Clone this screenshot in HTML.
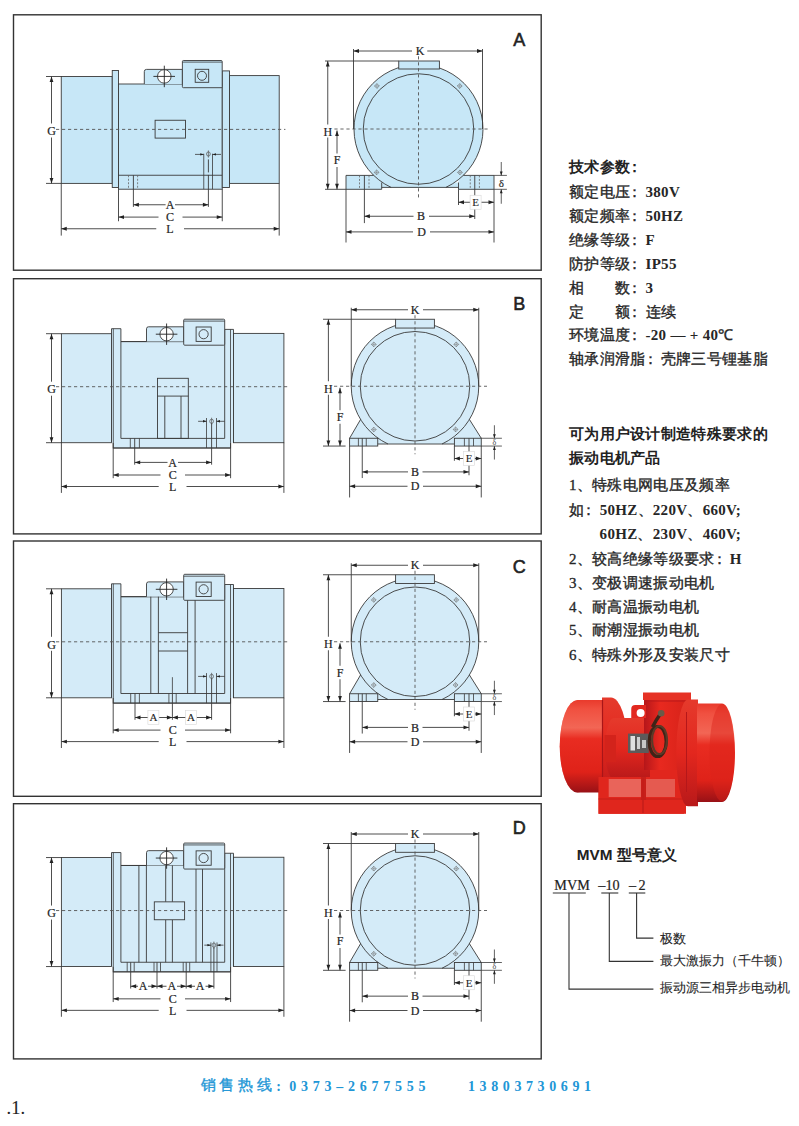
<!DOCTYPE html>
<html><head><meta charset="utf-8"><style>
html,body{margin:0;padding:0;background:#fff;width:799px;height:1126px;overflow:hidden;position:relative}
.t{position:absolute;white-space:nowrap;line-height:20px;font-family:"Liberation Serif",serif;font-size:15px;letter-spacing:0.3px;color:#262626;font-weight:normal;-webkit-text-stroke-width:0.35px}
.b{font-family:"Liberation Sans",sans-serif;font-weight:bold;color:#222;-webkit-text-stroke:0}
.n{font-family:"Liberation Serif",serif;font-weight:bold;-webkit-text-stroke:0}
.c{position:relative;left:-3px}
.m{font-family:"Liberation Serif",serif;font-weight:normal;-webkit-text-stroke-width:0.3px}
</style></head><body>
<svg width="799" height="1126" viewBox="0 0 799 1126" style="position:absolute;left:0;top:0">
<rect x="13.5" y="14.8" width="527.7" height="255.4" fill="none" stroke="#333" stroke-width="1.4"/>
<text x="519.3" y="45.6" font-family="Liberation Sans" font-size="18" text-anchor="middle" fill="#222" font-weight="normal" stroke="#222" stroke-width="0.55">A</text>
<rect x="61.25" y="76.5" width="51" height="106.9" fill="#c7e7f7" stroke="#3a3a3a" stroke-width="0.9"/>
<rect x="112.25" y="70.5" width="6.25" height="117" fill="#c7e7f7" stroke="#3a3a3a" stroke-width="0.9"/>
<rect x="118.5" y="84" width="103.75" height="105.2" fill="#c7e7f7" stroke="#3a3a3a" stroke-width="0.9"/>
<line x1="118.5" y1="175.25" x2="222.25" y2="175.25" stroke="#3a3a3a" stroke-width="0.9"/>
<rect x="222.25" y="70.9" width="7.25" height="116.6" fill="#c7e7f7" stroke="#3a3a3a" stroke-width="0.9"/>
<rect x="229.5" y="75.6" width="49.7" height="107.8" fill="#c7e7f7" stroke="#3a3a3a" stroke-width="0.9"/>
<path d="M144.3,84 V71.6 Q144.3,69.4 146.5,69.4 H182.4 V84" fill="#c7e7f7" stroke="#3a3a3a" stroke-width="0.9"/>
<rect x="182.4" y="60.5" width="39.8" height="27.2" fill="#c7e7f7" stroke="#3a3a3a" stroke-width="0.9" rx="1"/>
<line x1="182.4" y1="62.1" x2="222.2" y2="62.1" stroke="#3a3a3a" stroke-width="0.8"/>
<rect x="195.2" y="69.3" width="13.5" height="13" fill="none" stroke="#3a3a3a" stroke-width="0.9"/>
<circle cx="202" cy="75.8" r="4.5" fill="none" stroke="#3a3a3a" stroke-width="0.9"/>
<circle cx="164.3" cy="76.4" r="6.8" fill="#fff" stroke="#3a3a3a" stroke-width="0.9"/>
<line x1="153.4" y1="76.4" x2="175" y2="76.4" stroke="#222" stroke-width="0.9"/>
<line x1="164.3" y1="65.7" x2="164.3" y2="87.2" stroke="#222" stroke-width="0.9"/>
<rect x="155.1" y="120.25" width="30.4" height="17.85" fill="none" stroke="#3a3a3a" stroke-width="0.9"/>
<line x1="128.5" y1="175.25" x2="128.5" y2="189.2" stroke="#666" stroke-width="0.8" stroke-dasharray="2,1.5"/>
<line x1="137.6" y1="175.25" x2="137.6" y2="189.2" stroke="#666" stroke-width="0.8" stroke-dasharray="2,1.5"/>
<line x1="133.4" y1="175.25" x2="133.4" y2="206.9" stroke="#3a3a3a" stroke-width="0.9"/>
<line x1="203.75" y1="153.75" x2="203.75" y2="189.2" stroke="#3a3a3a" stroke-width="0.8"/>
<line x1="212.5" y1="153.75" x2="212.5" y2="189.2" stroke="#3a3a3a" stroke-width="0.8"/>
<line x1="208.4" y1="159.4" x2="208.4" y2="206.9" stroke="#3a3a3a" stroke-width="0.9" stroke-dasharray="13,2.5,40"/>
<line x1="195" y1="154.4" x2="203.75" y2="154.4" stroke="#3a3a3a" stroke-width="0.8"/>
<polygon points="203.75,154.4 200.25,153.2 200.25,155.6" fill="#222"/>
<line x1="212.5" y1="154.4" x2="221" y2="154.4" stroke="#3a3a3a" stroke-width="0.8"/>
<polygon points="212.5,154.4 216,153.2 216,155.6" fill="#222"/>
<ellipse cx="208.4" cy="154" rx="1.9" ry="2.1" fill="none" stroke="#555" stroke-width="0.7"/>
<line x1="208.4" y1="150.4" x2="208.4" y2="157.6" stroke="#555" stroke-width="0.7"/>
<line x1="56" y1="129.4" x2="285.4" y2="129.4" stroke="#555" stroke-width="0.9" stroke-dasharray="3.2,2.8"/>
<line x1="46" y1="76.5" x2="61.25" y2="76.5" stroke="#3a3a3a" stroke-width="0.9"/>
<line x1="46" y1="183.4" x2="61.25" y2="183.4" stroke="#3a3a3a" stroke-width="0.9"/>
<line x1="51.5" y1="76.5" x2="51.5" y2="123.5" stroke="#3a3a3a" stroke-width="0.9"/>
<line x1="51.5" y1="137.5" x2="51.5" y2="183.4" stroke="#3a3a3a" stroke-width="0.9"/>
<polygon points="51.5,76.5 49.6,82 53.4,82" fill="#222"/>
<polygon points="51.5,183.4 49.6,177.9 53.4,177.9" fill="#222"/>
<text x="51.5" y="135.1" font-family="Liberation Serif" font-size="12" text-anchor="middle" fill="#1e1e1e" font-weight="normal" stroke="#1e1e1e" stroke-width="0.2">G</text>
<line x1="61.25" y1="183.4" x2="61.25" y2="235.6" stroke="#3a3a3a" stroke-width="0.9"/>
<line x1="279.2" y1="183.4" x2="279.2" y2="235.6" stroke="#3a3a3a" stroke-width="0.9"/>
<line x1="118.5" y1="189.2" x2="118.5" y2="221.25" stroke="#3a3a3a" stroke-width="0.9"/>
<line x1="222.25" y1="189.2" x2="222.25" y2="221.25" stroke="#3a3a3a" stroke-width="0.9"/>
<line x1="133.4" y1="204.75" x2="165.6" y2="204.75" stroke="#3a3a3a" stroke-width="0.9"/>
<line x1="175" y1="204.75" x2="208.4" y2="204.75" stroke="#3a3a3a" stroke-width="0.9"/>
<polygon points="133.4,204.75 138.9,202.85 138.9,206.65" fill="#222"/>
<polygon points="208.4,204.75 202.9,202.85 202.9,206.65" fill="#222"/>
<text x="170" y="208.95" font-family="Liberation Serif" font-size="12" text-anchor="middle" fill="#1e1e1e" font-weight="normal" stroke="#1e1e1e" stroke-width="0.2">A</text>
<line x1="118.5" y1="217.1" x2="158.5" y2="217.1" stroke="#3a3a3a" stroke-width="0.9"/>
<line x1="182.5" y1="217.1" x2="222.25" y2="217.1" stroke="#3a3a3a" stroke-width="0.9"/>
<polygon points="118.5,217.1 124,215.2 124,219" fill="#222"/>
<polygon points="222.25,217.1 216.75,215.2 216.75,219" fill="#222"/>
<text x="170" y="221.3" font-family="Liberation Serif" font-size="12" text-anchor="middle" fill="#1e1e1e" font-weight="normal" stroke="#1e1e1e" stroke-width="0.2">C</text>
<line x1="61.25" y1="228.75" x2="156.25" y2="228.75" stroke="#3a3a3a" stroke-width="0.9"/>
<line x1="184" y1="228.75" x2="279.2" y2="228.75" stroke="#3a3a3a" stroke-width="0.9"/>
<polygon points="61.25,228.75 66.75,226.85 66.75,230.65" fill="#222"/>
<polygon points="279.2,228.75 273.7,226.85 273.7,230.65" fill="#222"/>
<text x="170" y="232.95" font-family="Liberation Serif" font-size="12" text-anchor="middle" fill="#1e1e1e" font-weight="normal" stroke="#1e1e1e" stroke-width="0.2">L</text>
<rect x="381.7" y="182.5" width="76.8" height="4.9" fill="#c7e7f7"/>
<rect x="346" y="175.4" width="35.7" height="13.9" fill="#c7e7f7"/>
<rect x="458.5" y="175.4" width="35.5" height="13.9" fill="#c7e7f7"/>
<path d="M391.12,187.4 A64.5,64.5 0 1 1 445.88,187.4 Z" fill="#c7e7f7"/>
<path d="M391.12,187.4 A64.5,64.5 0 1 1 445.88,187.4" fill="none" stroke="#3a3a3a" stroke-width="0.9"/>
<circle cx="418.5" cy="129" r="55.25" fill="none" stroke="#3a3a3a" stroke-width="0.9"/>
<path d="M373.7,175.4 H346 V189.3 H381.7 V182.5" fill="none" stroke="#3a3a3a" stroke-width="0.9"/>
<path d="M463.3,175.4 H494 V189.3 H458.5 V182.5" fill="none" stroke="#3a3a3a" stroke-width="0.9"/>
<line x1="381.7" y1="187.4" x2="458.5" y2="187.4" stroke="#3a3a3a" stroke-width="0.9"/>
<rect x="398.75" y="61" width="40.65" height="8" fill="#c7e7f7" stroke="#3a3a3a" stroke-width="0.9"/>
<line x1="359.5" y1="175.4" x2="359.5" y2="189.3" stroke="#666" stroke-width="0.8" stroke-dasharray="2,1.5"/>
<line x1="369" y1="175.4" x2="369" y2="189.3" stroke="#666" stroke-width="0.8" stroke-dasharray="2,1.5"/>
<line x1="470.25" y1="175.4" x2="470.25" y2="189.3" stroke="#666" stroke-width="0.8" stroke-dasharray="2,1.5"/>
<line x1="479.4" y1="175.4" x2="479.4" y2="189.3" stroke="#666" stroke-width="0.8" stroke-dasharray="2,1.5"/>
<line x1="364.4" y1="175.4" x2="364.4" y2="223.1" stroke="#3a3a3a" stroke-width="0.9"/>
<line x1="474.75" y1="175.4" x2="474.75" y2="219" stroke="#3a3a3a" stroke-width="0.9"/>
<path d="M376.9,83.6 L379.3,86 L376.9,88.4 L374.5,86 Z" fill="none" stroke="#666" stroke-width="0.6"/>
<line x1="374.5" y1="86" x2="379.3" y2="86" stroke="#777" stroke-width="0.5"/>
<line x1="376.9" y1="83.6" x2="376.9" y2="88.4" stroke="#777" stroke-width="0.5"/>
<path d="M459.75,83.6 L462.15,86 L459.75,88.4 L457.35,86 Z" fill="none" stroke="#666" stroke-width="0.6"/>
<line x1="457.35" y1="86" x2="462.15" y2="86" stroke="#777" stroke-width="0.5"/>
<line x1="459.75" y1="83.6" x2="459.75" y2="88.4" stroke="#777" stroke-width="0.5"/>
<path d="M376.6,170 L379,172.4 L376.6,174.8 L374.2,172.4 Z" fill="none" stroke="#666" stroke-width="0.6"/>
<line x1="374.2" y1="172.4" x2="379" y2="172.4" stroke="#777" stroke-width="0.5"/>
<line x1="376.6" y1="170" x2="376.6" y2="174.8" stroke="#777" stroke-width="0.5"/>
<path d="M459.9,170 L462.3,172.4 L459.9,174.8 L457.5,172.4 Z" fill="none" stroke="#666" stroke-width="0.6"/>
<line x1="457.5" y1="172.4" x2="462.3" y2="172.4" stroke="#777" stroke-width="0.5"/>
<line x1="459.9" y1="170" x2="459.9" y2="174.8" stroke="#777" stroke-width="0.5"/>
<line x1="334.4" y1="129" x2="490" y2="129" stroke="#555" stroke-width="0.9" stroke-dasharray="3.2,2.8"/>
<line x1="418.5" y1="56.25" x2="418.5" y2="198" stroke="#555" stroke-width="0.9" stroke-dasharray="3.2,2.8"/>
<line x1="353.5" y1="49" x2="353.5" y2="129" stroke="#3a3a3a" stroke-width="0.9"/>
<line x1="482.5" y1="49" x2="482.5" y2="129" stroke="#3a3a3a" stroke-width="0.9"/>
<line x1="353.5" y1="51" x2="412" y2="51" stroke="#3a3a3a" stroke-width="0.9"/>
<line x1="427.25" y1="51" x2="482.5" y2="51" stroke="#3a3a3a" stroke-width="0.9"/>
<polygon points="353.5,51 359,49.1 359,52.9" fill="#222"/>
<polygon points="482.5,51 477,49.1 477,52.9" fill="#222"/>
<text x="420" y="55.2" font-family="Liberation Serif" font-size="12" text-anchor="middle" fill="#1e1e1e" font-weight="normal" stroke="#1e1e1e" stroke-width="0.2">K</text>
<line x1="325" y1="61" x2="398.75" y2="61" stroke="#3a3a3a" stroke-width="0.9"/>
<line x1="325" y1="189.3" x2="346" y2="189.3" stroke="#3a3a3a" stroke-width="0.9"/>
<line x1="327.75" y1="61" x2="327.75" y2="124.5" stroke="#3a3a3a" stroke-width="0.9"/>
<line x1="327.75" y1="137.5" x2="327.75" y2="189.3" stroke="#3a3a3a" stroke-width="0.9"/>
<polygon points="327.75,61 325.85,66.5 329.65,66.5" fill="#222"/>
<polygon points="327.75,189.3 325.85,183.8 329.65,183.8" fill="#222"/>
<text x="327.75" y="135.5" font-family="Liberation Serif" font-size="12" text-anchor="middle" fill="#1e1e1e" font-weight="normal" stroke="#1e1e1e" stroke-width="0.2">H</text>
<line x1="337" y1="130.5" x2="337" y2="153.5" stroke="#3a3a3a" stroke-width="0.9"/>
<line x1="337" y1="167" x2="337" y2="189.3" stroke="#3a3a3a" stroke-width="0.9"/>
<polygon points="337,130.5 335.1,136 338.9,136" fill="#222"/>
<polygon points="337,189.3 335.1,183.8 338.9,183.8" fill="#222"/>
<text x="337" y="164.2" font-family="Liberation Serif" font-size="12" text-anchor="middle" fill="#1e1e1e" font-weight="normal" stroke="#1e1e1e" stroke-width="0.2">F</text>
<line x1="494" y1="175.4" x2="506.9" y2="175.4" stroke="#3a3a3a" stroke-width="0.8"/>
<line x1="494" y1="189.3" x2="506.9" y2="189.3" stroke="#3a3a3a" stroke-width="0.8"/>
<line x1="501.25" y1="162" x2="501.25" y2="175.4" stroke="#3a3a3a" stroke-width="0.8"/>
<polygon points="501.25,175.4 499.85,171.4 502.65,171.4" fill="#222"/>
<line x1="501.25" y1="203.75" x2="501.25" y2="189.3" stroke="#3a3a3a" stroke-width="0.8"/>
<polygon points="501.25,189.3 499.85,193.3 502.65,193.3" fill="#222"/>
<text x="501.25" y="187" font-family="Liberation Serif" font-size="11" text-anchor="middle" fill="#333" font-weight="normal" stroke="#333" stroke-width="0.2">&#948;</text>
<line x1="346" y1="189.3" x2="346" y2="242.5" stroke="#3a3a3a" stroke-width="0.9"/>
<line x1="494" y1="189.3" x2="494" y2="242.5" stroke="#3a3a3a" stroke-width="0.9"/>
<line x1="458.5" y1="189.3" x2="458.5" y2="205" stroke="#3a3a3a" stroke-width="0.9"/>
<line x1="458.5" y1="202.25" x2="470.6" y2="202.25" stroke="#3a3a3a" stroke-width="0.9"/>
<line x1="481.25" y1="202.25" x2="494" y2="202.25" stroke="#3a3a3a" stroke-width="0.9"/>
<polygon points="458.5,202.25 464,200.35 464,204.15" fill="#222"/>
<polygon points="494,202.25 488.5,200.35 488.5,204.15" fill="#222"/>
<rect x="470.1" y="195.25" width="11" height="14" fill="#fff" stroke="#d8d8d8" stroke-width="0.6"/>
<text x="475.6" y="206.05" font-family="Liberation Serif" font-size="11" text-anchor="middle" fill="#1e1e1e" font-weight="normal" stroke="#1e1e1e" stroke-width="0.1">E</text>
<line x1="364.4" y1="216.25" x2="413.5" y2="216.25" stroke="#3a3a3a" stroke-width="0.9"/>
<line x1="429" y1="216.25" x2="474.75" y2="216.25" stroke="#3a3a3a" stroke-width="0.9"/>
<polygon points="364.4,216.25 369.9,214.35 369.9,218.15" fill="#222"/>
<polygon points="474.75,216.25 469.25,214.35 469.25,218.15" fill="#222"/>
<text x="421" y="220.45" font-family="Liberation Serif" font-size="12" text-anchor="middle" fill="#1e1e1e" font-weight="normal" stroke="#1e1e1e" stroke-width="0.2">B</text>
<line x1="346" y1="231.9" x2="413" y2="231.9" stroke="#3a3a3a" stroke-width="0.9"/>
<line x1="430" y1="231.9" x2="494" y2="231.9" stroke="#3a3a3a" stroke-width="0.9"/>
<polygon points="346,231.9 351.5,230 351.5,233.8" fill="#222"/>
<polygon points="494,231.9 488.5,230 488.5,233.8" fill="#222"/>
<text x="421.5" y="236.1" font-family="Liberation Serif" font-size="12" text-anchor="middle" fill="#1e1e1e" font-weight="normal" stroke="#1e1e1e" stroke-width="0.2">D</text>
<rect x="13.5" y="278.7" width="527.7" height="255.2" fill="none" stroke="#333" stroke-width="1.4"/>
<text x="519.3" y="310" font-family="Liberation Sans" font-size="18" text-anchor="middle" fill="#222" font-weight="normal" stroke="#222" stroke-width="0.55">B</text>
<rect x="61.4" y="333.7" width="50.1" height="109" fill="#d4ebf8" stroke="#3a3a3a" stroke-width="0.9"/>
<rect x="113.2" y="341.6" width="117.4" height="106.4" fill="#d4ebf8" stroke="#3a3a3a" stroke-width="0.9"/>
<rect x="111.5" y="328.7" width="9.4" height="114" fill="#d4ebf8"/>
<path d="M111.5,442.7 V328.7 H120.9 V341.6" fill="none" stroke="#3a3a3a" stroke-width="0.9"/>
<line x1="113.3" y1="328.7" x2="113.3" y2="442.7" stroke="#3a3a3a" stroke-width="0.8"/>
<rect x="224.7" y="329.4" width="8.8" height="113.3" fill="#d4ebf8"/>
<path d="M224.7,341.6 V329.4 H233.5 V442.7" fill="none" stroke="#3a3a3a" stroke-width="0.9"/>
<line x1="230.5" y1="329.4" x2="230.5" y2="442.7" stroke="#3a3a3a" stroke-width="0.8"/>
<rect x="233.5" y="333.4" width="50.4" height="109.3" fill="#d4ebf8" stroke="#3a3a3a" stroke-width="0.9"/>
<path d="M113.2,442.7 V448 H230.6 V442.7" fill="none" stroke="#3a3a3a" stroke-width="0.9"/>
<path d="M120.9,341.6 V438.4 H224.7 V341.6" fill="none" stroke="#3a3a3a" stroke-width="0.9"/>
<line x1="120.9" y1="341.6" x2="224.7" y2="341.6" stroke="#3a3a3a" stroke-width="0.9"/>
<path d="M146.5,341.6 V328.8 Q146.5,326.8 148.5,326.8 H183.7 V341.6" fill="#d4ebf8" stroke="#3a3a3a" stroke-width="0.9"/>
<rect x="183.7" y="319.2" width="41" height="26" fill="#d4ebf8" stroke="#3a3a3a" stroke-width="0.9" rx="1"/>
<line x1="183.7" y1="321.1" x2="224.7" y2="321.1" stroke="#3a3a3a" stroke-width="0.8"/>
<rect x="196.1" y="327" width="15.1" height="14.4" fill="none" stroke="#3a3a3a" stroke-width="0.9"/>
<circle cx="203.6" cy="334.2" r="4.6" fill="none" stroke="#3a3a3a" stroke-width="0.9"/>
<rect x="157.5" y="378.3" width="30.8" height="60.1" fill="none" stroke="#3a3a3a" stroke-width="0.9"/>
<line x1="157.5" y1="396.1" x2="188.3" y2="396.1" stroke="#3a3a3a" stroke-width="0.9"/>
<line x1="164.8" y1="396.1" x2="164.8" y2="438.4" stroke="#3a3a3a" stroke-width="0.9"/>
<line x1="181" y1="396.1" x2="181" y2="438.4" stroke="#3a3a3a" stroke-width="0.9"/>
<circle cx="166.6" cy="334.2" r="6.7" fill="#fff" stroke="#3a3a3a" stroke-width="0.9"/>
<line x1="155.8" y1="334.2" x2="177.4" y2="334.2" stroke="#222" stroke-width="0.9"/>
<line x1="166.6" y1="323.5" x2="166.6" y2="344.9" stroke="#222" stroke-width="0.9"/>
<line x1="130.3" y1="438.4" x2="130.3" y2="448" stroke="#3a3a3a" stroke-width="0.8"/>
<line x1="139.4" y1="438.4" x2="139.4" y2="448" stroke="#3a3a3a" stroke-width="0.8"/>
<line x1="134.7" y1="438.4" x2="134.7" y2="464.7" stroke="#3a3a3a" stroke-width="0.9"/>
<line x1="206.5" y1="418" x2="206.5" y2="448" stroke="#3a3a3a" stroke-width="0.8"/>
<line x1="216.5" y1="418" x2="216.5" y2="448" stroke="#3a3a3a" stroke-width="0.8"/>
<line x1="211.6" y1="423" x2="211.6" y2="464.7" stroke="#3a3a3a" stroke-width="0.9"/>
<line x1="198.1" y1="421.3" x2="206.5" y2="421.3" stroke="#3a3a3a" stroke-width="0.8"/>
<polygon points="206.5,421.3 203,420.1 203,422.5" fill="#222"/>
<line x1="216.5" y1="421.3" x2="224.7" y2="421.3" stroke="#3a3a3a" stroke-width="0.8"/>
<polygon points="216.5,421.3 220,420.1 220,422.5" fill="#222"/>
<ellipse cx="211.6" cy="421.3" rx="1.9" ry="2.1" fill="none" stroke="#555" stroke-width="0.7"/>
<line x1="211.6" y1="417.7" x2="211.6" y2="424.9" stroke="#555" stroke-width="0.7"/>
<line x1="56" y1="386.7" x2="289.5" y2="386.7" stroke="#555" stroke-width="0.9" stroke-dasharray="3.2,2.8"/>
<line x1="46" y1="333.7" x2="61.4" y2="333.7" stroke="#3a3a3a" stroke-width="0.9"/>
<line x1="46" y1="442.7" x2="61.4" y2="442.7" stroke="#3a3a3a" stroke-width="0.9"/>
<line x1="51.5" y1="333.7" x2="51.5" y2="381.7" stroke="#3a3a3a" stroke-width="0.9"/>
<line x1="51.5" y1="395.7" x2="51.5" y2="442.7" stroke="#3a3a3a" stroke-width="0.9"/>
<polygon points="51.5,333.7 49.6,339.2 53.4,339.2" fill="#222"/>
<polygon points="51.5,442.7 49.6,437.2 53.4,437.2" fill="#222"/>
<text x="51.5" y="393.4" font-family="Liberation Serif" font-size="12" text-anchor="middle" fill="#1e1e1e" font-weight="normal" stroke="#1e1e1e" stroke-width="0.2">G</text>
<line x1="61.4" y1="442.7" x2="61.4" y2="492.9" stroke="#3a3a3a" stroke-width="0.9"/>
<line x1="283.9" y1="442.7" x2="283.9" y2="492.9" stroke="#3a3a3a" stroke-width="0.9"/>
<line x1="113.2" y1="448" x2="113.2" y2="478.2" stroke="#3a3a3a" stroke-width="0.9"/>
<line x1="230.6" y1="448" x2="230.6" y2="478.2" stroke="#3a3a3a" stroke-width="0.9"/>
<line x1="61.4" y1="486.5" x2="158.7" y2="486.5" stroke="#3a3a3a" stroke-width="0.9"/>
<line x1="186.5" y1="486.5" x2="283.9" y2="486.5" stroke="#3a3a3a" stroke-width="0.9"/>
<polygon points="61.4,486.5 66.9,484.6 66.9,488.4" fill="#222"/>
<polygon points="283.9,486.5 278.4,484.6 278.4,488.4" fill="#222"/>
<text x="172.7" y="490.7" font-family="Liberation Serif" font-size="12" text-anchor="middle" fill="#1e1e1e" font-weight="normal" stroke="#1e1e1e" stroke-width="0.2">L</text>
<line x1="113.2" y1="475" x2="160.5" y2="475" stroke="#3a3a3a" stroke-width="0.9"/>
<line x1="185" y1="475" x2="230.6" y2="475" stroke="#3a3a3a" stroke-width="0.9"/>
<polygon points="113.2,475 118.7,473.1 118.7,476.9" fill="#222"/>
<polygon points="230.6,475 225.1,473.1 225.1,476.9" fill="#222"/>
<text x="172.7" y="479.2" font-family="Liberation Serif" font-size="12" text-anchor="middle" fill="#1e1e1e" font-weight="normal" stroke="#1e1e1e" stroke-width="0.2">C</text>
<line x1="134.7" y1="462.4" x2="167.5" y2="462.4" stroke="#3a3a3a" stroke-width="0.9"/>
<line x1="178" y1="462.4" x2="211.6" y2="462.4" stroke="#3a3a3a" stroke-width="0.9"/>
<polygon points="134.7,462.4 140.2,460.5 140.2,464.3" fill="#222"/>
<polygon points="211.6,462.4 206.1,460.5 206.1,464.3" fill="#222"/>
<text x="172.7" y="466.6" font-family="Liberation Serif" font-size="12" text-anchor="middle" fill="#1e1e1e" font-weight="normal" stroke="#1e1e1e" stroke-width="0.2">A</text>
<path d="M349.6,446.05 V438.25 L360.58,419.45 A63.75,63.75 0 1 1 469.42,419.45 L481.25,438.25 V446.05 H454.4 V444 H377.75 V446.05 Z" fill="#d4ebf8"/>
<path d="M388,444 A63.75,63.75 0 1 1 442,444" fill="none" stroke="#3a3a3a" stroke-width="0.9"/>
<circle cx="415" cy="386.25" r="54.75" fill="none" stroke="#3a3a3a" stroke-width="0.9"/>
<line x1="349.6" y1="438.25" x2="360.58" y2="419.45" stroke="#3a3a3a" stroke-width="0.9"/>
<line x1="481.25" y1="438.25" x2="469.42" y2="419.45" stroke="#3a3a3a" stroke-width="0.9"/>
<rect x="349.6" y="438.25" width="28.15" height="7.8" fill="none" stroke="#3a3a3a" stroke-width="0.9"/>
<rect x="454.4" y="438.25" width="26.85" height="7.8" fill="none" stroke="#3a3a3a" stroke-width="0.9"/>
<line x1="377.75" y1="444" x2="454.4" y2="444" stroke="#3a3a3a" stroke-width="0.9"/>
<rect x="395.6" y="319.25" width="38.8" height="8.8" fill="#d4ebf8" stroke="#3a3a3a" stroke-width="0.9"/>
<line x1="358.4" y1="438.25" x2="358.4" y2="446.05" stroke="#3a3a3a" stroke-width="0.8"/>
<line x1="366.25" y1="438.25" x2="366.25" y2="446.05" stroke="#3a3a3a" stroke-width="0.8"/>
<line x1="464.4" y1="438.25" x2="464.4" y2="446.05" stroke="#3a3a3a" stroke-width="0.8"/>
<line x1="473.5" y1="438.25" x2="473.5" y2="446.05" stroke="#3a3a3a" stroke-width="0.8"/>
<line x1="362.25" y1="438.25" x2="362.25" y2="478.05" stroke="#3a3a3a" stroke-width="0.9"/>
<line x1="469" y1="438.25" x2="469" y2="475.25" stroke="#3a3a3a" stroke-width="0.9"/>
<path d="M373.75,342 L376.15,344.4 L373.75,346.8 L371.35,344.4 Z" fill="none" stroke="#666" stroke-width="0.6"/>
<line x1="371.35" y1="344.4" x2="376.15" y2="344.4" stroke="#777" stroke-width="0.5"/>
<line x1="373.75" y1="342" x2="373.75" y2="346.8" stroke="#777" stroke-width="0.5"/>
<path d="M456.25,342 L458.65,344.4 L456.25,346.8 L453.85,344.4 Z" fill="none" stroke="#666" stroke-width="0.6"/>
<line x1="453.85" y1="344.4" x2="458.65" y2="344.4" stroke="#777" stroke-width="0.5"/>
<line x1="456.25" y1="342" x2="456.25" y2="346.8" stroke="#777" stroke-width="0.5"/>
<path d="M373.75,427.15 L376.15,429.55 L373.75,431.95 L371.35,429.55 Z" fill="none" stroke="#666" stroke-width="0.6"/>
<line x1="371.35" y1="429.55" x2="376.15" y2="429.55" stroke="#777" stroke-width="0.5"/>
<line x1="373.75" y1="427.15" x2="373.75" y2="431.95" stroke="#777" stroke-width="0.5"/>
<path d="M455.6,427.05 L458,429.45 L455.6,431.85 L453.2,429.45 Z" fill="none" stroke="#666" stroke-width="0.6"/>
<line x1="453.2" y1="429.45" x2="458" y2="429.45" stroke="#777" stroke-width="0.5"/>
<line x1="455.6" y1="427.05" x2="455.6" y2="431.85" stroke="#777" stroke-width="0.5"/>
<line x1="334" y1="386.25" x2="487" y2="386.25" stroke="#555" stroke-width="0.9" stroke-dasharray="3.2,2.8"/>
<line x1="415" y1="315.25" x2="415" y2="454.25" stroke="#555" stroke-width="0.9" stroke-dasharray="3.2,2.8"/>
<line x1="351.25" y1="307.75" x2="351.25" y2="386.25" stroke="#3a3a3a" stroke-width="0.9"/>
<line x1="478.75" y1="307.75" x2="478.75" y2="386.25" stroke="#3a3a3a" stroke-width="0.9"/>
<line x1="351.25" y1="309.75" x2="408" y2="309.75" stroke="#3a3a3a" stroke-width="0.9"/>
<line x1="423" y1="309.75" x2="478.75" y2="309.75" stroke="#3a3a3a" stroke-width="0.9"/>
<polygon points="351.25,309.75 356.75,307.85 356.75,311.65" fill="#222"/>
<polygon points="478.75,309.75 473.25,307.85 473.25,311.65" fill="#222"/>
<text x="415" y="313.95" font-family="Liberation Serif" font-size="12" text-anchor="middle" fill="#1e1e1e" font-weight="normal" stroke="#1e1e1e" stroke-width="0.2">K</text>
<line x1="323" y1="319.25" x2="395.6" y2="319.25" stroke="#3a3a3a" stroke-width="0.9"/>
<line x1="323" y1="446.05" x2="345.6" y2="446.05" stroke="#3a3a3a" stroke-width="0.9"/>
<line x1="328.4" y1="319.25" x2="328.4" y2="381.25" stroke="#3a3a3a" stroke-width="0.9"/>
<line x1="328.4" y1="394.75" x2="328.4" y2="446.05" stroke="#3a3a3a" stroke-width="0.9"/>
<polygon points="328.4,319.25 326.5,324.75 330.3,324.75" fill="#222"/>
<polygon points="328.4,446.05 326.5,440.55 330.3,440.55" fill="#222"/>
<text x="328.4" y="392.75" font-family="Liberation Serif" font-size="12" text-anchor="middle" fill="#1e1e1e" font-weight="normal" stroke="#1e1e1e" stroke-width="0.2">H</text>
<line x1="340" y1="387.75" x2="340" y2="410.25" stroke="#3a3a3a" stroke-width="0.9"/>
<line x1="340" y1="423.75" x2="340" y2="446.05" stroke="#3a3a3a" stroke-width="0.9"/>
<polygon points="340,387.75 338.1,393.25 341.9,393.25" fill="#222"/>
<polygon points="340,446.05 338.1,440.55 341.9,440.55" fill="#222"/>
<text x="340" y="421.05" font-family="Liberation Serif" font-size="12" text-anchor="middle" fill="#1e1e1e" font-weight="normal" stroke="#1e1e1e" stroke-width="0.2">F</text>
<line x1="481.25" y1="438.25" x2="501.9" y2="438.25" stroke="#3a3a3a" stroke-width="0.8"/>
<line x1="481.25" y1="446.05" x2="501.9" y2="446.05" stroke="#3a3a3a" stroke-width="0.8"/>
<line x1="494.4" y1="425.25" x2="494.4" y2="438.25" stroke="#3a3a3a" stroke-width="0.8"/>
<polygon points="494.4,438.25 493,434.25 495.8,434.25" fill="#222"/>
<line x1="494.4" y1="459.55" x2="494.4" y2="446.05" stroke="#3a3a3a" stroke-width="0.8"/>
<polygon points="494.4,446.05 493,450.05 495.8,450.05" fill="#222"/>
<text x="494.4" y="444.55" font-family="Liberation Serif" font-size="8" text-anchor="middle" fill="#444" font-weight="normal" stroke="#444" stroke-width="0">&#948;</text>
<line x1="349.6" y1="446.05" x2="349.6" y2="497.45" stroke="#3a3a3a" stroke-width="0.9"/>
<line x1="481.25" y1="446.05" x2="481.25" y2="497.45" stroke="#3a3a3a" stroke-width="0.9"/>
<line x1="454.4" y1="446.05" x2="454.4" y2="460.75" stroke="#3a3a3a" stroke-width="0.9"/>
<line x1="454.4" y1="458.5" x2="463.5" y2="458.5" stroke="#3a3a3a" stroke-width="0.9"/>
<line x1="474.5" y1="458.5" x2="481.25" y2="458.5" stroke="#3a3a3a" stroke-width="0.9"/>
<polygon points="454.4,458.5 459.9,456.6 459.9,460.4" fill="#222"/>
<polygon points="481.25,458.5 475.75,456.6 475.75,460.4" fill="#222"/>
<rect x="463.5" y="451.5" width="11" height="14" fill="#fff" stroke="#d8d8d8" stroke-width="0.6"/>
<text x="469" y="462.3" font-family="Liberation Serif" font-size="11" text-anchor="middle" fill="#1e1e1e" font-weight="normal" stroke="#1e1e1e" stroke-width="0.1">E</text>
<line x1="362.25" y1="471.9" x2="408" y2="471.9" stroke="#3a3a3a" stroke-width="0.9"/>
<line x1="422.5" y1="471.9" x2="469" y2="471.9" stroke="#3a3a3a" stroke-width="0.9"/>
<polygon points="362.25,471.9 367.75,470 367.75,473.8" fill="#222"/>
<polygon points="469,471.9 463.5,470 463.5,473.8" fill="#222"/>
<text x="415" y="476.1" font-family="Liberation Serif" font-size="12" text-anchor="middle" fill="#1e1e1e" font-weight="normal" stroke="#1e1e1e" stroke-width="0.2">B</text>
<line x1="349.6" y1="486.25" x2="407.5" y2="486.25" stroke="#3a3a3a" stroke-width="0.9"/>
<line x1="423" y1="486.25" x2="481.25" y2="486.25" stroke="#3a3a3a" stroke-width="0.9"/>
<polygon points="349.6,486.25 355.1,484.35 355.1,488.15" fill="#222"/>
<polygon points="481.25,486.25 475.75,484.35 475.75,488.15" fill="#222"/>
<text x="415" y="490.45" font-family="Liberation Serif" font-size="12" text-anchor="middle" fill="#1e1e1e" font-weight="normal" stroke="#1e1e1e" stroke-width="0.2">D</text>
<rect x="13.5" y="541" width="527.7" height="255.3" fill="none" stroke="#333" stroke-width="1.4"/>
<text x="519.3" y="573" font-family="Liberation Sans" font-size="18" text-anchor="middle" fill="#222" font-weight="normal" stroke="#222" stroke-width="0.55">C</text>
<rect x="61.4" y="588.8" width="50.1" height="109" fill="#d4ebf8" stroke="#3a3a3a" stroke-width="0.9"/>
<rect x="113.2" y="596.7" width="117.4" height="106.4" fill="#d4ebf8" stroke="#3a3a3a" stroke-width="0.9"/>
<rect x="111.5" y="583.8" width="9.4" height="114" fill="#d4ebf8"/>
<path d="M111.5,697.8 V583.8 H120.9 V596.7" fill="none" stroke="#3a3a3a" stroke-width="0.9"/>
<line x1="113.3" y1="583.8" x2="113.3" y2="697.8" stroke="#3a3a3a" stroke-width="0.8"/>
<rect x="224.7" y="584.5" width="8.8" height="113.3" fill="#d4ebf8"/>
<path d="M224.7,596.7 V584.5 H233.5 V697.8" fill="none" stroke="#3a3a3a" stroke-width="0.9"/>
<line x1="230.5" y1="584.5" x2="230.5" y2="697.8" stroke="#3a3a3a" stroke-width="0.8"/>
<rect x="233.5" y="588.5" width="50.4" height="109.3" fill="#d4ebf8" stroke="#3a3a3a" stroke-width="0.9"/>
<path d="M113.2,697.8 V703.1 H230.6 V697.8" fill="none" stroke="#3a3a3a" stroke-width="0.9"/>
<path d="M120.9,596.7 V693.5 H224.7 V596.7" fill="none" stroke="#3a3a3a" stroke-width="0.9"/>
<line x1="120.9" y1="596.7" x2="224.7" y2="596.7" stroke="#3a3a3a" stroke-width="0.9"/>
<path d="M146.5,596.7 V583.9 Q146.5,581.9 148.5,581.9 H183.7 V596.7" fill="#d4ebf8" stroke="#3a3a3a" stroke-width="0.9"/>
<rect x="183.7" y="574.3" width="41" height="26" fill="#d4ebf8" stroke="#3a3a3a" stroke-width="0.9" rx="1"/>
<line x1="183.7" y1="576.2" x2="224.7" y2="576.2" stroke="#3a3a3a" stroke-width="0.8"/>
<rect x="196.1" y="582.1" width="15.1" height="14.4" fill="none" stroke="#3a3a3a" stroke-width="0.9"/>
<circle cx="203.6" cy="589.3" r="4.6" fill="none" stroke="#3a3a3a" stroke-width="0.9"/>
<line x1="150.8" y1="596.7" x2="150.8" y2="693.5" stroke="#3a3a3a" stroke-width="0.9"/>
<line x1="158.4" y1="596.7" x2="158.4" y2="693.5" stroke="#3a3a3a" stroke-width="0.9"/>
<line x1="187.6" y1="600.3" x2="187.6" y2="693.5" stroke="#3a3a3a" stroke-width="0.9"/>
<line x1="195.1" y1="600.3" x2="195.1" y2="693.5" stroke="#3a3a3a" stroke-width="0.9"/>
<line x1="158.4" y1="632.7" x2="187.6" y2="632.7" stroke="#3a3a3a" stroke-width="0.9"/>
<line x1="158.4" y1="651" x2="187.6" y2="651" stroke="#3a3a3a" stroke-width="0.9"/>
<line x1="172.4" y1="677.2" x2="172.4" y2="693.5" stroke="#3a3a3a" stroke-width="0.8"/>
<circle cx="166.6" cy="589.3" r="6.7" fill="#fff" stroke="#3a3a3a" stroke-width="0.9"/>
<line x1="155.8" y1="589.3" x2="177.4" y2="589.3" stroke="#222" stroke-width="0.9"/>
<line x1="166.6" y1="578.6" x2="166.6" y2="600" stroke="#222" stroke-width="0.9"/>
<line x1="130.7" y1="693.5" x2="130.7" y2="703.1" stroke="#3a3a3a" stroke-width="0.8"/>
<line x1="139.4" y1="693.5" x2="139.4" y2="703.1" stroke="#3a3a3a" stroke-width="0.8"/>
<line x1="135" y1="693.5" x2="135" y2="719.8" stroke="#3a3a3a" stroke-width="0.9"/>
<line x1="168.9" y1="693.5" x2="168.9" y2="703.1" stroke="#3a3a3a" stroke-width="0.8"/>
<line x1="176.2" y1="693.5" x2="176.2" y2="703.1" stroke="#3a3a3a" stroke-width="0.8"/>
<line x1="172.4" y1="693.5" x2="172.4" y2="719.8" stroke="#3a3a3a" stroke-width="0.9"/>
<line x1="206.5" y1="673.1" x2="206.5" y2="703.1" stroke="#3a3a3a" stroke-width="0.8"/>
<line x1="216.5" y1="673.1" x2="216.5" y2="703.1" stroke="#3a3a3a" stroke-width="0.8"/>
<line x1="211.6" y1="678.1" x2="211.6" y2="719.8" stroke="#3a3a3a" stroke-width="0.9"/>
<line x1="198.1" y1="676.4" x2="206.5" y2="676.4" stroke="#3a3a3a" stroke-width="0.8"/>
<polygon points="206.5,676.4 203,675.2 203,677.6" fill="#222"/>
<line x1="216.5" y1="676.4" x2="224.7" y2="676.4" stroke="#3a3a3a" stroke-width="0.8"/>
<polygon points="216.5,676.4 220,675.2 220,677.6" fill="#222"/>
<ellipse cx="211.6" cy="676.4" rx="1.9" ry="2.1" fill="none" stroke="#555" stroke-width="0.7"/>
<line x1="211.6" y1="672.8" x2="211.6" y2="680" stroke="#555" stroke-width="0.7"/>
<line x1="56" y1="641.8" x2="289.5" y2="641.8" stroke="#555" stroke-width="0.9" stroke-dasharray="3.2,2.8"/>
<line x1="46" y1="588.8" x2="61.4" y2="588.8" stroke="#3a3a3a" stroke-width="0.9"/>
<line x1="46" y1="697.8" x2="61.4" y2="697.8" stroke="#3a3a3a" stroke-width="0.9"/>
<line x1="51.5" y1="588.8" x2="51.5" y2="636.8" stroke="#3a3a3a" stroke-width="0.9"/>
<line x1="51.5" y1="650.8" x2="51.5" y2="697.8" stroke="#3a3a3a" stroke-width="0.9"/>
<polygon points="51.5,588.8 49.6,594.3 53.4,594.3" fill="#222"/>
<polygon points="51.5,697.8 49.6,692.3 53.4,692.3" fill="#222"/>
<text x="51.5" y="648.5" font-family="Liberation Serif" font-size="12" text-anchor="middle" fill="#1e1e1e" font-weight="normal" stroke="#1e1e1e" stroke-width="0.2">G</text>
<line x1="61.4" y1="697.8" x2="61.4" y2="748" stroke="#3a3a3a" stroke-width="0.9"/>
<line x1="283.9" y1="697.8" x2="283.9" y2="748" stroke="#3a3a3a" stroke-width="0.9"/>
<line x1="113.2" y1="703.1" x2="113.2" y2="733.3" stroke="#3a3a3a" stroke-width="0.9"/>
<line x1="230.6" y1="703.1" x2="230.6" y2="733.3" stroke="#3a3a3a" stroke-width="0.9"/>
<line x1="61.4" y1="741.6" x2="158.7" y2="741.6" stroke="#3a3a3a" stroke-width="0.9"/>
<line x1="186.5" y1="741.6" x2="283.9" y2="741.6" stroke="#3a3a3a" stroke-width="0.9"/>
<polygon points="61.4,741.6 66.9,739.7 66.9,743.5" fill="#222"/>
<polygon points="283.9,741.6 278.4,739.7 278.4,743.5" fill="#222"/>
<text x="172.7" y="745.8" font-family="Liberation Serif" font-size="12" text-anchor="middle" fill="#1e1e1e" font-weight="normal" stroke="#1e1e1e" stroke-width="0.2">L</text>
<line x1="113.2" y1="730.1" x2="160.5" y2="730.1" stroke="#3a3a3a" stroke-width="0.9"/>
<line x1="185" y1="730.1" x2="230.6" y2="730.1" stroke="#3a3a3a" stroke-width="0.9"/>
<polygon points="113.2,730.1 118.7,728.2 118.7,732" fill="#222"/>
<polygon points="230.6,730.1 225.1,728.2 225.1,732" fill="#222"/>
<text x="172.7" y="734.3" font-family="Liberation Serif" font-size="12" text-anchor="middle" fill="#1e1e1e" font-weight="normal" stroke="#1e1e1e" stroke-width="0.2">C</text>
<line x1="135" y1="717.5" x2="148" y2="717.5" stroke="#3a3a3a" stroke-width="0.9"/>
<line x1="159" y1="717.5" x2="172.4" y2="717.5" stroke="#3a3a3a" stroke-width="0.9"/>
<polygon points="135,717.5 140.5,715.6 140.5,719.4" fill="#222"/>
<polygon points="172.4,717.5 166.9,715.6 166.9,719.4" fill="#222"/>
<rect x="147.9" y="710.5" width="11" height="14" fill="#fff" stroke="#d8d8d8" stroke-width="0.6"/>
<text x="153.4" y="721.3" font-family="Liberation Serif" font-size="11" text-anchor="middle" fill="#1e1e1e" font-weight="normal" stroke="#1e1e1e" stroke-width="0.1">A</text>
<line x1="172.4" y1="717.5" x2="186" y2="717.5" stroke="#3a3a3a" stroke-width="0.9"/>
<line x1="196.5" y1="717.5" x2="211.6" y2="717.5" stroke="#3a3a3a" stroke-width="0.9"/>
<polygon points="172.4,717.5 177.9,715.6 177.9,719.4" fill="#222"/>
<polygon points="211.6,717.5 206.1,715.6 206.1,719.4" fill="#222"/>
<rect x="185.6" y="710.5" width="11" height="14" fill="#fff" stroke="#d8d8d8" stroke-width="0.6"/>
<text x="191.1" y="721.3" font-family="Liberation Serif" font-size="11" text-anchor="middle" fill="#1e1e1e" font-weight="normal" stroke="#1e1e1e" stroke-width="0.1">A</text>
<path d="M349.6,701.55 V693.75 L360.58,674.95 A63.75,63.75 0 1 1 469.42,674.95 L481.25,693.75 V701.55 H454.4 V699.5 H377.75 V701.55 Z" fill="#d4ebf8"/>
<path d="M388,699.5 A63.75,63.75 0 1 1 442,699.5" fill="none" stroke="#3a3a3a" stroke-width="0.9"/>
<circle cx="415" cy="641.75" r="54.75" fill="none" stroke="#3a3a3a" stroke-width="0.9"/>
<line x1="349.6" y1="693.75" x2="360.58" y2="674.95" stroke="#3a3a3a" stroke-width="0.9"/>
<line x1="481.25" y1="693.75" x2="469.42" y2="674.95" stroke="#3a3a3a" stroke-width="0.9"/>
<rect x="349.6" y="693.75" width="28.15" height="7.8" fill="none" stroke="#3a3a3a" stroke-width="0.9"/>
<rect x="454.4" y="693.75" width="26.85" height="7.8" fill="none" stroke="#3a3a3a" stroke-width="0.9"/>
<line x1="377.75" y1="699.5" x2="454.4" y2="699.5" stroke="#3a3a3a" stroke-width="0.9"/>
<rect x="395.6" y="574.75" width="38.8" height="8.8" fill="#d4ebf8" stroke="#3a3a3a" stroke-width="0.9"/>
<line x1="358.4" y1="693.75" x2="358.4" y2="701.55" stroke="#3a3a3a" stroke-width="0.8"/>
<line x1="366.25" y1="693.75" x2="366.25" y2="701.55" stroke="#3a3a3a" stroke-width="0.8"/>
<line x1="464.4" y1="693.75" x2="464.4" y2="701.55" stroke="#3a3a3a" stroke-width="0.8"/>
<line x1="473.5" y1="693.75" x2="473.5" y2="701.55" stroke="#3a3a3a" stroke-width="0.8"/>
<line x1="362.25" y1="693.75" x2="362.25" y2="733.55" stroke="#3a3a3a" stroke-width="0.9"/>
<line x1="469" y1="693.75" x2="469" y2="730.75" stroke="#3a3a3a" stroke-width="0.9"/>
<path d="M373.75,597.5 L376.15,599.9 L373.75,602.3 L371.35,599.9 Z" fill="none" stroke="#666" stroke-width="0.6"/>
<line x1="371.35" y1="599.9" x2="376.15" y2="599.9" stroke="#777" stroke-width="0.5"/>
<line x1="373.75" y1="597.5" x2="373.75" y2="602.3" stroke="#777" stroke-width="0.5"/>
<path d="M456.25,597.5 L458.65,599.9 L456.25,602.3 L453.85,599.9 Z" fill="none" stroke="#666" stroke-width="0.6"/>
<line x1="453.85" y1="599.9" x2="458.65" y2="599.9" stroke="#777" stroke-width="0.5"/>
<line x1="456.25" y1="597.5" x2="456.25" y2="602.3" stroke="#777" stroke-width="0.5"/>
<path d="M373.75,682.65 L376.15,685.05 L373.75,687.45 L371.35,685.05 Z" fill="none" stroke="#666" stroke-width="0.6"/>
<line x1="371.35" y1="685.05" x2="376.15" y2="685.05" stroke="#777" stroke-width="0.5"/>
<line x1="373.75" y1="682.65" x2="373.75" y2="687.45" stroke="#777" stroke-width="0.5"/>
<path d="M455.6,682.55 L458,684.95 L455.6,687.35 L453.2,684.95 Z" fill="none" stroke="#666" stroke-width="0.6"/>
<line x1="453.2" y1="684.95" x2="458" y2="684.95" stroke="#777" stroke-width="0.5"/>
<line x1="455.6" y1="682.55" x2="455.6" y2="687.35" stroke="#777" stroke-width="0.5"/>
<line x1="334" y1="641.75" x2="487" y2="641.75" stroke="#555" stroke-width="0.9" stroke-dasharray="3.2,2.8"/>
<line x1="415" y1="570.75" x2="415" y2="709.75" stroke="#555" stroke-width="0.9" stroke-dasharray="3.2,2.8"/>
<line x1="351.25" y1="563.25" x2="351.25" y2="641.75" stroke="#3a3a3a" stroke-width="0.9"/>
<line x1="478.75" y1="563.25" x2="478.75" y2="641.75" stroke="#3a3a3a" stroke-width="0.9"/>
<line x1="351.25" y1="565.25" x2="408" y2="565.25" stroke="#3a3a3a" stroke-width="0.9"/>
<line x1="423" y1="565.25" x2="478.75" y2="565.25" stroke="#3a3a3a" stroke-width="0.9"/>
<polygon points="351.25,565.25 356.75,563.35 356.75,567.15" fill="#222"/>
<polygon points="478.75,565.25 473.25,563.35 473.25,567.15" fill="#222"/>
<text x="415" y="569.45" font-family="Liberation Serif" font-size="12" text-anchor="middle" fill="#1e1e1e" font-weight="normal" stroke="#1e1e1e" stroke-width="0.2">K</text>
<line x1="323" y1="574.75" x2="395.6" y2="574.75" stroke="#3a3a3a" stroke-width="0.9"/>
<line x1="323" y1="701.55" x2="345.6" y2="701.55" stroke="#3a3a3a" stroke-width="0.9"/>
<line x1="328.4" y1="574.75" x2="328.4" y2="636.75" stroke="#3a3a3a" stroke-width="0.9"/>
<line x1="328.4" y1="650.25" x2="328.4" y2="701.55" stroke="#3a3a3a" stroke-width="0.9"/>
<polygon points="328.4,574.75 326.5,580.25 330.3,580.25" fill="#222"/>
<polygon points="328.4,701.55 326.5,696.05 330.3,696.05" fill="#222"/>
<text x="328.4" y="648.25" font-family="Liberation Serif" font-size="12" text-anchor="middle" fill="#1e1e1e" font-weight="normal" stroke="#1e1e1e" stroke-width="0.2">H</text>
<line x1="340" y1="643.25" x2="340" y2="665.75" stroke="#3a3a3a" stroke-width="0.9"/>
<line x1="340" y1="679.25" x2="340" y2="701.55" stroke="#3a3a3a" stroke-width="0.9"/>
<polygon points="340,643.25 338.1,648.75 341.9,648.75" fill="#222"/>
<polygon points="340,701.55 338.1,696.05 341.9,696.05" fill="#222"/>
<text x="340" y="676.55" font-family="Liberation Serif" font-size="12" text-anchor="middle" fill="#1e1e1e" font-weight="normal" stroke="#1e1e1e" stroke-width="0.2">F</text>
<line x1="481.25" y1="693.75" x2="501.9" y2="693.75" stroke="#3a3a3a" stroke-width="0.8"/>
<line x1="481.25" y1="701.55" x2="501.9" y2="701.55" stroke="#3a3a3a" stroke-width="0.8"/>
<line x1="494.4" y1="680.75" x2="494.4" y2="693.75" stroke="#3a3a3a" stroke-width="0.8"/>
<polygon points="494.4,693.75 493,689.75 495.8,689.75" fill="#222"/>
<line x1="494.4" y1="715.05" x2="494.4" y2="701.55" stroke="#3a3a3a" stroke-width="0.8"/>
<polygon points="494.4,701.55 493,705.55 495.8,705.55" fill="#222"/>
<text x="494.4" y="700.05" font-family="Liberation Serif" font-size="8" text-anchor="middle" fill="#444" font-weight="normal" stroke="#444" stroke-width="0">&#948;</text>
<line x1="349.6" y1="701.55" x2="349.6" y2="752.95" stroke="#3a3a3a" stroke-width="0.9"/>
<line x1="481.25" y1="701.55" x2="481.25" y2="752.95" stroke="#3a3a3a" stroke-width="0.9"/>
<line x1="454.4" y1="701.55" x2="454.4" y2="716.25" stroke="#3a3a3a" stroke-width="0.9"/>
<line x1="454.4" y1="714" x2="463.5" y2="714" stroke="#3a3a3a" stroke-width="0.9"/>
<line x1="474.5" y1="714" x2="481.25" y2="714" stroke="#3a3a3a" stroke-width="0.9"/>
<polygon points="454.4,714 459.9,712.1 459.9,715.9" fill="#222"/>
<polygon points="481.25,714 475.75,712.1 475.75,715.9" fill="#222"/>
<rect x="463.5" y="707" width="11" height="14" fill="#fff" stroke="#d8d8d8" stroke-width="0.6"/>
<text x="469" y="717.8" font-family="Liberation Serif" font-size="11" text-anchor="middle" fill="#1e1e1e" font-weight="normal" stroke="#1e1e1e" stroke-width="0.1">E</text>
<line x1="362.25" y1="727.4" x2="408" y2="727.4" stroke="#3a3a3a" stroke-width="0.9"/>
<line x1="422.5" y1="727.4" x2="469" y2="727.4" stroke="#3a3a3a" stroke-width="0.9"/>
<polygon points="362.25,727.4 367.75,725.5 367.75,729.3" fill="#222"/>
<polygon points="469,727.4 463.5,725.5 463.5,729.3" fill="#222"/>
<text x="415" y="731.6" font-family="Liberation Serif" font-size="12" text-anchor="middle" fill="#1e1e1e" font-weight="normal" stroke="#1e1e1e" stroke-width="0.2">B</text>
<line x1="349.6" y1="741.75" x2="407.5" y2="741.75" stroke="#3a3a3a" stroke-width="0.9"/>
<line x1="423" y1="741.75" x2="481.25" y2="741.75" stroke="#3a3a3a" stroke-width="0.9"/>
<polygon points="349.6,741.75 355.1,739.85 355.1,743.65" fill="#222"/>
<polygon points="481.25,741.75 475.75,739.85 475.75,743.65" fill="#222"/>
<text x="415" y="745.95" font-family="Liberation Serif" font-size="12" text-anchor="middle" fill="#1e1e1e" font-weight="normal" stroke="#1e1e1e" stroke-width="0.2">D</text>
<rect x="13.5" y="803.7" width="527.7" height="255.2" fill="none" stroke="#333" stroke-width="1.4"/>
<text x="519.3" y="834" font-family="Liberation Sans" font-size="18" text-anchor="middle" fill="#222" font-weight="normal" stroke="#222" stroke-width="0.55">D</text>
<rect x="61.4" y="857.55" width="50.1" height="109" fill="#d4ebf8" stroke="#3a3a3a" stroke-width="0.9"/>
<rect x="113.2" y="865.45" width="117.4" height="106.4" fill="#d4ebf8" stroke="#3a3a3a" stroke-width="0.9"/>
<rect x="111.5" y="852.55" width="9.4" height="114" fill="#d4ebf8"/>
<path d="M111.5,966.55 V852.55 H120.9 V865.45" fill="none" stroke="#3a3a3a" stroke-width="0.9"/>
<line x1="113.3" y1="852.55" x2="113.3" y2="966.55" stroke="#3a3a3a" stroke-width="0.8"/>
<rect x="224.7" y="853.25" width="8.8" height="113.3" fill="#d4ebf8"/>
<path d="M224.7,865.45 V853.25 H233.5 V966.55" fill="none" stroke="#3a3a3a" stroke-width="0.9"/>
<line x1="230.5" y1="853.25" x2="230.5" y2="966.55" stroke="#3a3a3a" stroke-width="0.8"/>
<rect x="233.5" y="857.25" width="50.4" height="109.3" fill="#d4ebf8" stroke="#3a3a3a" stroke-width="0.9"/>
<path d="M113.2,966.55 V971.85 H230.6 V966.55" fill="none" stroke="#3a3a3a" stroke-width="0.9"/>
<path d="M120.9,865.45 V962.25 H224.7 V865.45" fill="none" stroke="#3a3a3a" stroke-width="0.9"/>
<line x1="120.9" y1="865.45" x2="224.7" y2="865.45" stroke="#3a3a3a" stroke-width="0.9"/>
<path d="M146.5,865.45 V852.65 Q146.5,850.65 148.5,850.65 H183.7 V865.45" fill="#d4ebf8" stroke="#3a3a3a" stroke-width="0.9"/>
<rect x="183.7" y="843.05" width="41" height="26" fill="#d4ebf8" stroke="#3a3a3a" stroke-width="0.9" rx="1"/>
<line x1="183.7" y1="844.95" x2="224.7" y2="844.95" stroke="#3a3a3a" stroke-width="0.8"/>
<rect x="196.1" y="850.85" width="15.1" height="14.4" fill="none" stroke="#3a3a3a" stroke-width="0.9"/>
<circle cx="203.6" cy="858.05" r="4.6" fill="none" stroke="#3a3a3a" stroke-width="0.9"/>
<line x1="138.9" y1="865.45" x2="138.9" y2="962.25" stroke="#3a3a3a" stroke-width="0.9"/>
<line x1="146.4" y1="865.45" x2="146.4" y2="962.25" stroke="#3a3a3a" stroke-width="0.9"/>
<line x1="196" y1="869.05" x2="196" y2="962.25" stroke="#3a3a3a" stroke-width="0.9"/>
<line x1="202.5" y1="869.05" x2="202.5" y2="962.25" stroke="#3a3a3a" stroke-width="0.9"/>
<line x1="165.7" y1="865.45" x2="165.7" y2="901.85" stroke="#3a3a3a" stroke-width="0.9"/>
<line x1="172.4" y1="865.45" x2="172.4" y2="901.85" stroke="#3a3a3a" stroke-width="0.9"/>
<line x1="165.7" y1="919.75" x2="165.7" y2="962.25" stroke="#3a3a3a" stroke-width="0.9"/>
<line x1="172.4" y1="919.75" x2="172.4" y2="962.25" stroke="#3a3a3a" stroke-width="0.9"/>
<rect x="154.3" y="901.85" width="30.3" height="17.9" fill="#d4ebf8" stroke="#3a3a3a" stroke-width="0.9"/>
<circle cx="166.6" cy="858.05" r="6.7" fill="#fff" stroke="#3a3a3a" stroke-width="0.9"/>
<line x1="155.8" y1="858.05" x2="177.4" y2="858.05" stroke="#222" stroke-width="0.9"/>
<line x1="166.6" y1="847.35" x2="166.6" y2="868.75" stroke="#222" stroke-width="0.9"/>
<line x1="127.2" y1="962.25" x2="127.2" y2="971.85" stroke="#3a3a3a" stroke-width="0.8"/>
<line x1="134.2" y1="962.25" x2="134.2" y2="971.85" stroke="#3a3a3a" stroke-width="0.8"/>
<line x1="130.7" y1="962.25" x2="130.7" y2="988.55" stroke="#3a3a3a" stroke-width="0.9"/>
<line x1="154" y1="962.25" x2="154" y2="971.85" stroke="#3a3a3a" stroke-width="0.8"/>
<line x1="160.5" y1="962.25" x2="160.5" y2="971.85" stroke="#3a3a3a" stroke-width="0.8"/>
<line x1="157" y1="962.25" x2="157" y2="988.55" stroke="#3a3a3a" stroke-width="0.9"/>
<line x1="183.2" y1="962.25" x2="183.2" y2="971.85" stroke="#3a3a3a" stroke-width="0.8"/>
<line x1="189.7" y1="962.25" x2="189.7" y2="971.85" stroke="#3a3a3a" stroke-width="0.8"/>
<line x1="186.2" y1="962.25" x2="186.2" y2="988.55" stroke="#3a3a3a" stroke-width="0.9"/>
<line x1="210.9" y1="942.45" x2="210.9" y2="971.85" stroke="#3a3a3a" stroke-width="0.8"/>
<line x1="217" y1="942.45" x2="217" y2="971.85" stroke="#3a3a3a" stroke-width="0.8"/>
<line x1="213.9" y1="947.45" x2="213.9" y2="988.55" stroke="#3a3a3a" stroke-width="0.9"/>
<line x1="204.3" y1="945.15" x2="210.9" y2="945.15" stroke="#3a3a3a" stroke-width="0.8"/>
<polygon points="210.9,945.15 207.4,943.95 207.4,946.35" fill="#222"/>
<line x1="217" y1="945.15" x2="223.5" y2="945.15" stroke="#3a3a3a" stroke-width="0.8"/>
<polygon points="217,945.15 220.5,943.95 220.5,946.35" fill="#222"/>
<ellipse cx="213.9" cy="945.15" rx="1.9" ry="2.1" fill="none" stroke="#555" stroke-width="0.7"/>
<line x1="213.9" y1="941.55" x2="213.9" y2="948.75" stroke="#555" stroke-width="0.7"/>
<line x1="56" y1="910.55" x2="289.5" y2="910.55" stroke="#555" stroke-width="0.9" stroke-dasharray="3.2,2.8"/>
<line x1="46" y1="857.55" x2="61.4" y2="857.55" stroke="#3a3a3a" stroke-width="0.9"/>
<line x1="46" y1="966.55" x2="61.4" y2="966.55" stroke="#3a3a3a" stroke-width="0.9"/>
<line x1="51.5" y1="857.55" x2="51.5" y2="905.55" stroke="#3a3a3a" stroke-width="0.9"/>
<line x1="51.5" y1="919.55" x2="51.5" y2="966.55" stroke="#3a3a3a" stroke-width="0.9"/>
<polygon points="51.5,857.55 49.6,863.05 53.4,863.05" fill="#222"/>
<polygon points="51.5,966.55 49.6,961.05 53.4,961.05" fill="#222"/>
<text x="51.5" y="917.25" font-family="Liberation Serif" font-size="12" text-anchor="middle" fill="#1e1e1e" font-weight="normal" stroke="#1e1e1e" stroke-width="0.2">G</text>
<line x1="61.4" y1="966.55" x2="61.4" y2="1016.75" stroke="#3a3a3a" stroke-width="0.9"/>
<line x1="283.9" y1="966.55" x2="283.9" y2="1016.75" stroke="#3a3a3a" stroke-width="0.9"/>
<line x1="113.2" y1="971.85" x2="113.2" y2="1002.05" stroke="#3a3a3a" stroke-width="0.9"/>
<line x1="230.6" y1="971.85" x2="230.6" y2="1002.05" stroke="#3a3a3a" stroke-width="0.9"/>
<line x1="61.4" y1="1010.35" x2="158.7" y2="1010.35" stroke="#3a3a3a" stroke-width="0.9"/>
<line x1="186.5" y1="1010.35" x2="283.9" y2="1010.35" stroke="#3a3a3a" stroke-width="0.9"/>
<polygon points="61.4,1010.35 66.9,1008.45 66.9,1012.25" fill="#222"/>
<polygon points="283.9,1010.35 278.4,1008.45 278.4,1012.25" fill="#222"/>
<text x="172.7" y="1014.55" font-family="Liberation Serif" font-size="12" text-anchor="middle" fill="#1e1e1e" font-weight="normal" stroke="#1e1e1e" stroke-width="0.2">L</text>
<line x1="113.2" y1="998.85" x2="160.5" y2="998.85" stroke="#3a3a3a" stroke-width="0.9"/>
<line x1="185" y1="998.85" x2="230.6" y2="998.85" stroke="#3a3a3a" stroke-width="0.9"/>
<polygon points="113.2,998.85 118.7,996.95 118.7,1000.75" fill="#222"/>
<polygon points="230.6,998.85 225.1,996.95 225.1,1000.75" fill="#222"/>
<text x="172.7" y="1003.05" font-family="Liberation Serif" font-size="12" text-anchor="middle" fill="#1e1e1e" font-weight="normal" stroke="#1e1e1e" stroke-width="0.2">C</text>
<line x1="130.7" y1="986.25" x2="138" y2="986.25" stroke="#3a3a3a" stroke-width="0.9"/>
<line x1="148" y1="986.25" x2="157" y2="986.25" stroke="#3a3a3a" stroke-width="0.9"/>
<polygon points="130.7,986.25 136.2,984.35 136.2,988.15" fill="#222"/>
<polygon points="157,986.25 151.5,984.35 151.5,988.15" fill="#222"/>
<text x="143" y="990.45" font-family="Liberation Serif" font-size="12" text-anchor="middle" fill="#1e1e1e" font-weight="normal" stroke="#1e1e1e" stroke-width="0.2">A</text>
<line x1="157" y1="986.25" x2="166.5" y2="986.25" stroke="#3a3a3a" stroke-width="0.9"/>
<line x1="177" y1="986.25" x2="186.2" y2="986.25" stroke="#3a3a3a" stroke-width="0.9"/>
<polygon points="157,986.25 162.5,984.35 162.5,988.15" fill="#222"/>
<polygon points="186.2,986.25 180.7,984.35 180.7,988.15" fill="#222"/>
<text x="171.8" y="990.45" font-family="Liberation Serif" font-size="12" text-anchor="middle" fill="#1e1e1e" font-weight="normal" stroke="#1e1e1e" stroke-width="0.2">A</text>
<line x1="186.2" y1="986.25" x2="195" y2="986.25" stroke="#3a3a3a" stroke-width="0.9"/>
<line x1="205.5" y1="986.25" x2="213.9" y2="986.25" stroke="#3a3a3a" stroke-width="0.9"/>
<polygon points="186.2,986.25 191.7,984.35 191.7,988.15" fill="#222"/>
<polygon points="213.9,986.25 208.4,984.35 208.4,988.15" fill="#222"/>
<text x="200.2" y="990.45" font-family="Liberation Serif" font-size="12" text-anchor="middle" fill="#1e1e1e" font-weight="normal" stroke="#1e1e1e" stroke-width="0.2">A</text>
<path d="M349.6,970.3 V962.5 L360.58,943.7 A63.75,63.75 0 1 1 469.42,943.7 L481.25,962.5 V970.3 H454.4 V968.25 H377.75 V970.3 Z" fill="#d4ebf8"/>
<path d="M388,968.25 A63.75,63.75 0 1 1 442,968.25" fill="none" stroke="#3a3a3a" stroke-width="0.9"/>
<circle cx="415" cy="910.5" r="54.75" fill="none" stroke="#3a3a3a" stroke-width="0.9"/>
<line x1="349.6" y1="962.5" x2="360.58" y2="943.7" stroke="#3a3a3a" stroke-width="0.9"/>
<line x1="481.25" y1="962.5" x2="469.42" y2="943.7" stroke="#3a3a3a" stroke-width="0.9"/>
<rect x="349.6" y="962.5" width="28.15" height="7.8" fill="none" stroke="#3a3a3a" stroke-width="0.9"/>
<rect x="454.4" y="962.5" width="26.85" height="7.8" fill="none" stroke="#3a3a3a" stroke-width="0.9"/>
<line x1="377.75" y1="968.25" x2="454.4" y2="968.25" stroke="#3a3a3a" stroke-width="0.9"/>
<rect x="395.6" y="843.5" width="38.8" height="8.8" fill="#d4ebf8" stroke="#3a3a3a" stroke-width="0.9"/>
<line x1="358.4" y1="962.5" x2="358.4" y2="970.3" stroke="#3a3a3a" stroke-width="0.8"/>
<line x1="366.25" y1="962.5" x2="366.25" y2="970.3" stroke="#3a3a3a" stroke-width="0.8"/>
<line x1="464.4" y1="962.5" x2="464.4" y2="970.3" stroke="#3a3a3a" stroke-width="0.8"/>
<line x1="473.5" y1="962.5" x2="473.5" y2="970.3" stroke="#3a3a3a" stroke-width="0.8"/>
<line x1="362.25" y1="962.5" x2="362.25" y2="1002.3" stroke="#3a3a3a" stroke-width="0.9"/>
<line x1="469" y1="962.5" x2="469" y2="999.5" stroke="#3a3a3a" stroke-width="0.9"/>
<path d="M373.75,866.25 L376.15,868.65 L373.75,871.05 L371.35,868.65 Z" fill="none" stroke="#666" stroke-width="0.6"/>
<line x1="371.35" y1="868.65" x2="376.15" y2="868.65" stroke="#777" stroke-width="0.5"/>
<line x1="373.75" y1="866.25" x2="373.75" y2="871.05" stroke="#777" stroke-width="0.5"/>
<path d="M456.25,866.25 L458.65,868.65 L456.25,871.05 L453.85,868.65 Z" fill="none" stroke="#666" stroke-width="0.6"/>
<line x1="453.85" y1="868.65" x2="458.65" y2="868.65" stroke="#777" stroke-width="0.5"/>
<line x1="456.25" y1="866.25" x2="456.25" y2="871.05" stroke="#777" stroke-width="0.5"/>
<path d="M373.75,951.4 L376.15,953.8 L373.75,956.2 L371.35,953.8 Z" fill="none" stroke="#666" stroke-width="0.6"/>
<line x1="371.35" y1="953.8" x2="376.15" y2="953.8" stroke="#777" stroke-width="0.5"/>
<line x1="373.75" y1="951.4" x2="373.75" y2="956.2" stroke="#777" stroke-width="0.5"/>
<path d="M455.6,951.3 L458,953.7 L455.6,956.1 L453.2,953.7 Z" fill="none" stroke="#666" stroke-width="0.6"/>
<line x1="453.2" y1="953.7" x2="458" y2="953.7" stroke="#777" stroke-width="0.5"/>
<line x1="455.6" y1="951.3" x2="455.6" y2="956.1" stroke="#777" stroke-width="0.5"/>
<line x1="334" y1="910.5" x2="487" y2="910.5" stroke="#555" stroke-width="0.9" stroke-dasharray="3.2,2.8"/>
<line x1="415" y1="839.5" x2="415" y2="978.5" stroke="#555" stroke-width="0.9" stroke-dasharray="3.2,2.8"/>
<line x1="351.25" y1="832" x2="351.25" y2="910.5" stroke="#3a3a3a" stroke-width="0.9"/>
<line x1="478.75" y1="832" x2="478.75" y2="910.5" stroke="#3a3a3a" stroke-width="0.9"/>
<line x1="351.25" y1="834" x2="408" y2="834" stroke="#3a3a3a" stroke-width="0.9"/>
<line x1="423" y1="834" x2="478.75" y2="834" stroke="#3a3a3a" stroke-width="0.9"/>
<polygon points="351.25,834 356.75,832.1 356.75,835.9" fill="#222"/>
<polygon points="478.75,834 473.25,832.1 473.25,835.9" fill="#222"/>
<text x="415" y="838.2" font-family="Liberation Serif" font-size="12" text-anchor="middle" fill="#1e1e1e" font-weight="normal" stroke="#1e1e1e" stroke-width="0.2">K</text>
<line x1="323" y1="843.5" x2="395.6" y2="843.5" stroke="#3a3a3a" stroke-width="0.9"/>
<line x1="323" y1="970.3" x2="345.6" y2="970.3" stroke="#3a3a3a" stroke-width="0.9"/>
<line x1="328.4" y1="843.5" x2="328.4" y2="905.5" stroke="#3a3a3a" stroke-width="0.9"/>
<line x1="328.4" y1="919" x2="328.4" y2="970.3" stroke="#3a3a3a" stroke-width="0.9"/>
<polygon points="328.4,843.5 326.5,849 330.3,849" fill="#222"/>
<polygon points="328.4,970.3 326.5,964.8 330.3,964.8" fill="#222"/>
<text x="328.4" y="917" font-family="Liberation Serif" font-size="12" text-anchor="middle" fill="#1e1e1e" font-weight="normal" stroke="#1e1e1e" stroke-width="0.2">H</text>
<line x1="340" y1="912" x2="340" y2="934.5" stroke="#3a3a3a" stroke-width="0.9"/>
<line x1="340" y1="948" x2="340" y2="970.3" stroke="#3a3a3a" stroke-width="0.9"/>
<polygon points="340,912 338.1,917.5 341.9,917.5" fill="#222"/>
<polygon points="340,970.3 338.1,964.8 341.9,964.8" fill="#222"/>
<text x="340" y="945.3" font-family="Liberation Serif" font-size="12" text-anchor="middle" fill="#1e1e1e" font-weight="normal" stroke="#1e1e1e" stroke-width="0.2">F</text>
<line x1="481.25" y1="962.5" x2="501.9" y2="962.5" stroke="#3a3a3a" stroke-width="0.8"/>
<line x1="481.25" y1="970.3" x2="501.9" y2="970.3" stroke="#3a3a3a" stroke-width="0.8"/>
<line x1="494.4" y1="949.5" x2="494.4" y2="962.5" stroke="#3a3a3a" stroke-width="0.8"/>
<polygon points="494.4,962.5 493,958.5 495.8,958.5" fill="#222"/>
<line x1="494.4" y1="983.8" x2="494.4" y2="970.3" stroke="#3a3a3a" stroke-width="0.8"/>
<polygon points="494.4,970.3 493,974.3 495.8,974.3" fill="#222"/>
<text x="494.4" y="968.8" font-family="Liberation Serif" font-size="8" text-anchor="middle" fill="#444" font-weight="normal" stroke="#444" stroke-width="0">&#948;</text>
<line x1="349.6" y1="970.3" x2="349.6" y2="1021.7" stroke="#3a3a3a" stroke-width="0.9"/>
<line x1="481.25" y1="970.3" x2="481.25" y2="1021.7" stroke="#3a3a3a" stroke-width="0.9"/>
<line x1="454.4" y1="970.3" x2="454.4" y2="985" stroke="#3a3a3a" stroke-width="0.9"/>
<line x1="454.4" y1="982.75" x2="463.5" y2="982.75" stroke="#3a3a3a" stroke-width="0.9"/>
<line x1="474.5" y1="982.75" x2="481.25" y2="982.75" stroke="#3a3a3a" stroke-width="0.9"/>
<polygon points="454.4,982.75 459.9,980.85 459.9,984.65" fill="#222"/>
<polygon points="481.25,982.75 475.75,980.85 475.75,984.65" fill="#222"/>
<rect x="463.5" y="975.75" width="11" height="14" fill="#fff" stroke="#d8d8d8" stroke-width="0.6"/>
<text x="469" y="986.55" font-family="Liberation Serif" font-size="11" text-anchor="middle" fill="#1e1e1e" font-weight="normal" stroke="#1e1e1e" stroke-width="0.1">E</text>
<line x1="362.25" y1="996.15" x2="408" y2="996.15" stroke="#3a3a3a" stroke-width="0.9"/>
<line x1="422.5" y1="996.15" x2="469" y2="996.15" stroke="#3a3a3a" stroke-width="0.9"/>
<polygon points="362.25,996.15 367.75,994.25 367.75,998.05" fill="#222"/>
<polygon points="469,996.15 463.5,994.25 463.5,998.05" fill="#222"/>
<text x="415" y="1000.35" font-family="Liberation Serif" font-size="12" text-anchor="middle" fill="#1e1e1e" font-weight="normal" stroke="#1e1e1e" stroke-width="0.2">B</text>
<line x1="349.6" y1="1010.5" x2="407.5" y2="1010.5" stroke="#3a3a3a" stroke-width="0.9"/>
<line x1="423" y1="1010.5" x2="481.25" y2="1010.5" stroke="#3a3a3a" stroke-width="0.9"/>
<polygon points="349.6,1010.5 355.1,1008.6 355.1,1012.4" fill="#222"/>
<polygon points="481.25,1010.5 475.75,1008.6 475.75,1012.4" fill="#222"/>
<text x="415" y="1014.7" font-family="Liberation Serif" font-size="12" text-anchor="middle" fill="#1e1e1e" font-weight="normal" stroke="#1e1e1e" stroke-width="0.2">D</text>
<text x="554.3" y="889.7" font-family="Liberation Serif" font-size="14.2" text-anchor="start" fill="#222" font-weight="normal" stroke="#222" stroke-width="0.2">MVM</text>
<text x="598.3" y="889.7" font-family="Liberation Serif" font-size="14.2" text-anchor="start" fill="#222" font-weight="normal" stroke="#222" stroke-width="0.2">&#8211;10</text>
<text x="629.1" y="889.7" font-family="Liberation Serif" font-size="14.2" text-anchor="start" fill="#222" font-weight="normal" stroke="#222" stroke-width="0.2">&#8211;</text>
<text x="638.6" y="889.7" font-family="Liberation Serif" font-size="14.2" text-anchor="start" fill="#222" font-weight="normal" stroke="#222" stroke-width="0.2">2</text>
<line x1="552.8" y1="893" x2="585.8" y2="893" stroke="#333" stroke-width="1.1"/>
<line x1="601.3" y1="893" x2="618.3" y2="893" stroke="#333" stroke-width="1.1"/>
<line x1="628.8" y1="893" x2="645.3" y2="893" stroke="#333" stroke-width="1.1"/>
<path d="M569,893 V989.1 H653.4" fill="none" stroke="#333" stroke-width="1.1"/>
<path d="M609.3,893 V961.4 H653.4" fill="none" stroke="#333" stroke-width="1.1"/>
<path d="M636.6,893 V938.1 H653.4" fill="none" stroke="#333" stroke-width="1.1"/>
<defs>
<linearGradient id="gv" x1="0" y1="0" x2="0" y2="1">
<stop offset="0" stop-color="#e93a2c"/><stop offset="0.1" stop-color="#f05040"/><stop offset="0.3" stop-color="#f26655"/><stop offset="0.42" stop-color="#e92c21"/><stop offset="0.78" stop-color="#df2219"/><stop offset="1" stop-color="#981116"/></linearGradient>
<linearGradient id="gv2" x1="0" y1="0" x2="0" y2="1">
<stop offset="0" stop-color="#e53a2c"/><stop offset="0.5" stop-color="#e3271e"/><stop offset="1" stop-color="#b8191a"/></linearGradient>
<linearGradient id="gh" x1="0" y1="0" x2="1" y2="0">
<stop offset="0" stop-color="#b5161a"/><stop offset="0.35" stop-color="#e8291f"/><stop offset="1" stop-color="#d52219"/></linearGradient>
<linearGradient id="gl" x1="0" y1="0" x2="1" y2="0">
<stop offset="0" stop-color="#a51417"/><stop offset="0.35" stop-color="#dd251c"/><stop offset="1" stop-color="#e82b20"/></linearGradient>
</defs>
<path d="M600,718 H644 V694 H690 V806 H684 V813.8 H598.5 V790 Z" fill="#e1261d"/>
<path d="M577.5,700 H603 V792.5 H577.5 A17.75,46.25 0 0 1 577.5,700 Z" fill="url(#gv)"/>
<ellipse cx="577.5" cy="746.25" rx="17.75" ry="46.25" fill="url(#gv)" opacity="0.6"/>
<path d="M602,697.4 H611 A16.5,49 0 0 1 611,795.5 H602 Z" fill="url(#gv2)"/>
<line x1="602.5" y1="700" x2="602.5" y2="794" stroke="#a81518" stroke-width="1.2"/>
<path d="M614,718 H650 V779 H614 A9,30.5 0 0 1 614,718 Z" fill="url(#gv2)"/>
<rect x="604.5" y="735" width="11.5" height="27" fill="#d3231b"/>
<rect x="598.5" y="777" width="87.5" height="36.8" fill="#e0261d"/>
<rect x="608.7" y="779" width="32.3" height="18" fill="#e9645a"/>
<rect x="646" y="779" width="29" height="18" fill="#e55a50"/>
<rect x="641" y="777" width="5" height="23" fill="#c81f1a"/>
<line x1="598.5" y1="799" x2="686" y2="799" stroke="#c41e1a" stroke-width="1"/>
<line x1="643" y1="778" x2="643" y2="813" stroke="#c41e1a" stroke-width="1.5"/>
<rect x="644" y="694.6" width="46" height="75.4" fill="url(#gh)"/>
<rect x="643" y="692.5" width="48" height="7.5" fill="#e63225"/>
<line x1="644" y1="701" x2="690" y2="701" stroke="#b9181a" stroke-width="1"/>
<path d="M631.25,718 V709 Q631.25,704.9 635.25,704.9 H646 V718 Z" fill="#e2281f"/>
<circle cx="640.6" cy="713" r="4" fill="#fff"/>
<rect x="628" y="733.6" width="20.75" height="19.4" fill="#5d5a5a"/>
<rect x="630.5" y="736" width="4.5" height="14.5" fill="#e0e0e0"/>
<rect x="637" y="737" width="3" height="12" fill="#d0d0d0"/>
<rect x="642" y="740" width="4" height="8" fill="#c8c8c8"/>
<ellipse cx="657.7" cy="741.5" rx="8.5" ry="15" fill="none" stroke="#3f2418" stroke-width="3.2"/>
<ellipse cx="659.5" cy="740" rx="7.5" ry="14" fill="none" stroke="#5a3a28" stroke-width="2.2"/>
<path d="M661,713 Q656,720 652.5,727" fill="none" stroke="#3f2418" stroke-width="3.5"/>
<circle cx="661.2" cy="713.2" r="3.3" fill="#6b5a48"/>
<path d="M698,699.5 H688 A11.7,53.35 0 0 0 688,806.2 H698 Z" fill="url(#gv2)"/>
<line x1="686.5" y1="712" x2="686.5" y2="792" stroke="#b5171a" stroke-width="1"/>
<path d="M697,703.6 H722 A13,49.2 0 0 1 722,802 H697 Z" fill="url(#gv)"/>
<ellipse cx="722" cy="752.8" rx="12.5" ry="48.7" fill="#dc231b" opacity="0.45"/>
</svg>
<div class="t b" style="left:569px;top:157px">技术参数<span class="c">：</span></div>
<div class="t" style="left:569px;top:181.8px">额定电压<span class="c">：</span><span class="n">380V</span></div>
<div class="t" style="left:569px;top:205.8px">额定频率<span class="c">：</span><span class="n">50HZ</span></div>
<div class="t" style="left:569px;top:229.8px">绝缘等级<span class="c">：</span><span class="n">F</span></div>
<div class="t" style="left:569px;top:253.8px">防护等级<span class="c">：</span><span class="n">IP55</span></div>
<div class="t" style="left:569px;top:277.8px">相　　数<span class="c">：</span><span class="n">3</span></div>
<div class="t" style="left:569px;top:301.8px">定　　额<span class="c">：</span>连续</div>
<div class="t" style="left:569px;top:324.8px">环境温度<span class="c">：</span><span class="n">-20 — + 40</span>℃</div>
<div class="t" style="left:569px;top:348.8px">轴承润滑脂<span class="c">：</span>壳牌三号锂基脂</div>
<div class="t b" style="left:569px;top:424px">可为用户设计制造特殊要求的</div>
<div class="t b" style="left:569px;top:448px">振动电机产品</div>
<div class="t" style="left:569px;top:475px"><span class="m">1</span>、特殊电网电压及频率</div>
<div class="t" style="left:569px;top:500px">如<span class="c">：</span><span class="n">50HZ</span>、<span class="n">220V</span>、<span class="n">660V;</span></div>
<div class="t" style="left:569px;top:524px">　　<span class="n">60HZ</span>、<span class="n">230V</span>、<span class="n">460V;</span></div>
<div class="t" style="left:569px;top:549px"><span class="m">2</span>、较高绝缘等级要求<span class="c">：</span><span class="n">H</span></div>
<div class="t" style="left:569px;top:573px"><span class="m">3</span>、变极调速振动电机</div>
<div class="t" style="left:569px;top:597px"><span class="m">4</span>、耐高温振动电机</div>
<div class="t" style="left:569px;top:620px"><span class="m">5</span>、耐潮湿振动电机</div>

<div class="t b" style="left:576.8px;top:844.5px;font-size:15.3px;letter-spacing:0">MVM 型号意义</div>
<div class="t" style="left:659.9px;top:928.5px;font-size:12.5px;letter-spacing:0;-webkit-text-stroke-width:0.1px">极数</div>
<div class="t" style="left:659.9px;top:951px;font-size:12.5px;letter-spacing:0;-webkit-text-stroke-width:0.1px">最大激振力（千牛顿）</div>
<div class="t" style="left:659.9px;top:978px;font-size:12.5px;letter-spacing:0;-webkit-text-stroke-width:0.1px">振动源三相异步电动机</div>
<div class="t" style="left:200.5px;top:1075px;color:#2196d6;font-size:15px;letter-spacing:3.75px">销售热线</div>
<div class="t n" style="left:276.3px;top:1076.5px;color:#2196d6;font-size:14px">:</div>
<div class="t n" style="left:289.3px;top:1076.5px;color:#2196d6;font-size:14px;letter-spacing:4.75px">0373–2677555</div>
<div class="t n" style="left:468px;top:1076.5px;color:#2196d6;font-size:14px;letter-spacing:4.6px">13803730691</div>
<div class="t" style="left:6.5px;top:1097.8px;font-size:18.5px;letter-spacing:0;color:#222;-webkit-text-stroke-width:0.1px">.1.</div>
<div class="t" style="left:569px;top:644.5px"><span class="m">6</span>、特殊外形及安装尺寸</div>

</body></html>
